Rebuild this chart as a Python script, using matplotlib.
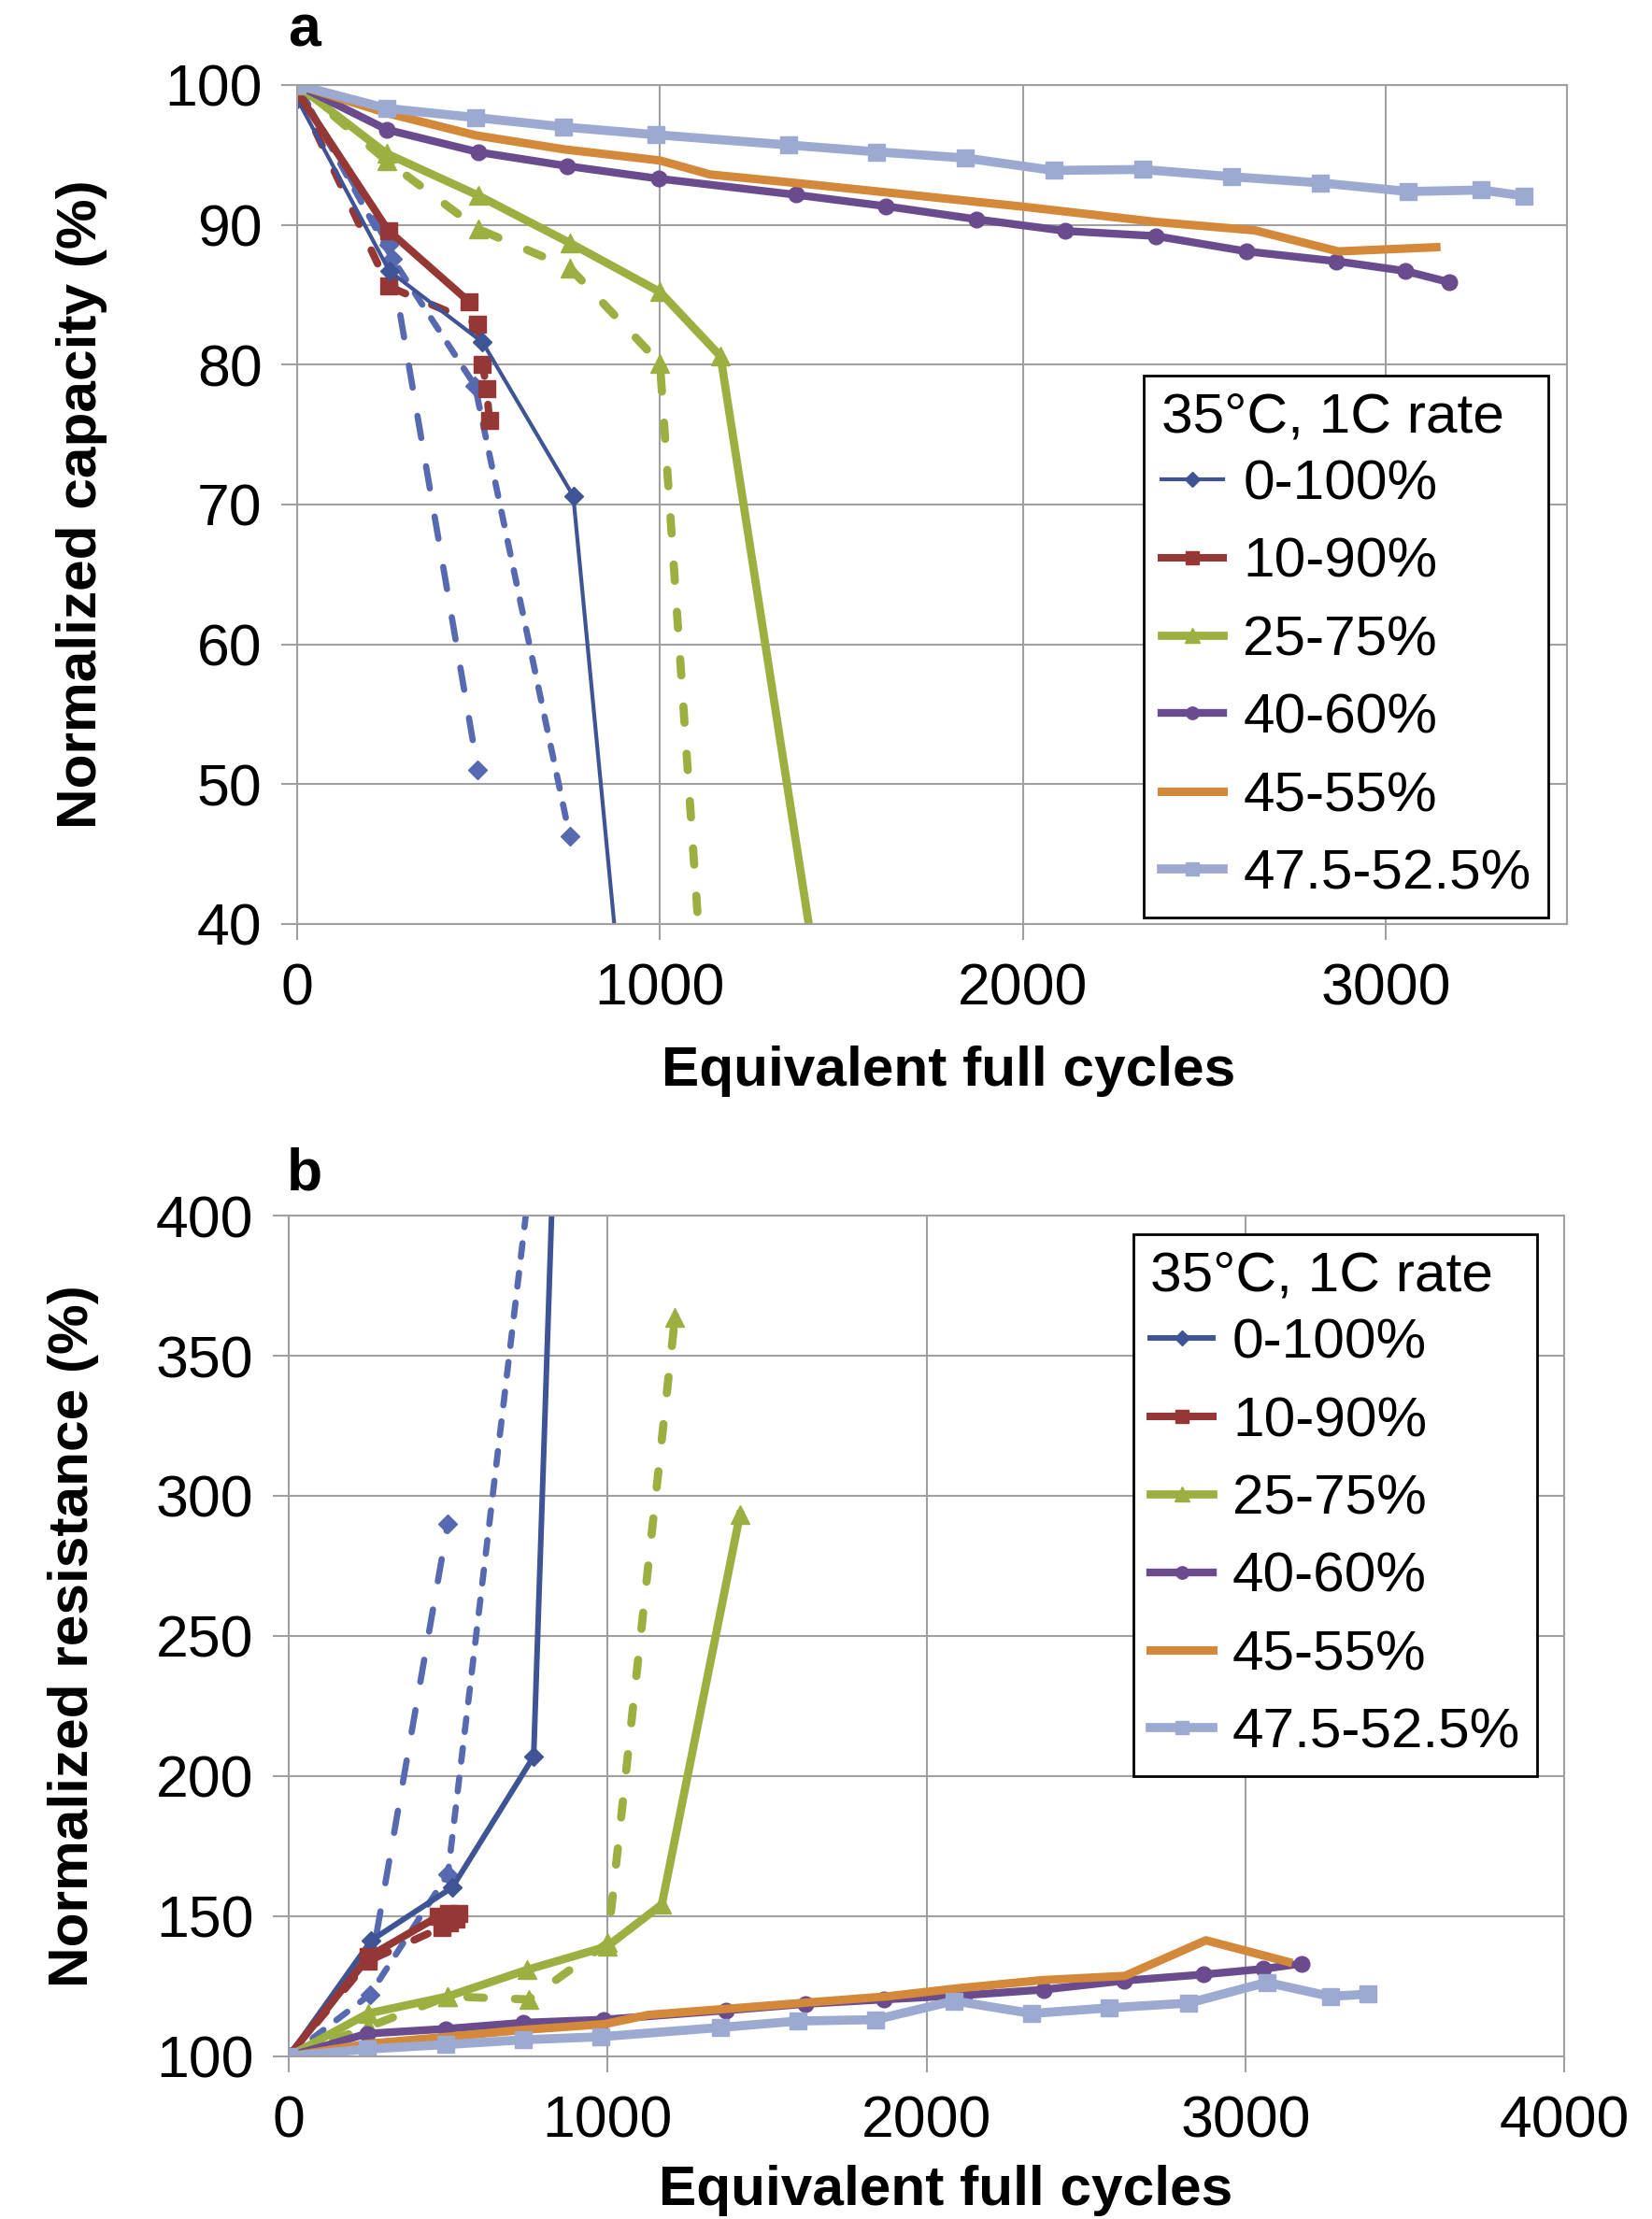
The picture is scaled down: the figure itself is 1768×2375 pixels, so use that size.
import matplotlib
matplotlib.use("Agg")
import matplotlib.pyplot as plt

plt.rcParams['font.family'] = ['Liberation Sans', 'DejaVu Sans']

# ---- colours ----
c_dblue = '#3F5495'
c_blue = '#5669B1'
c_red = '#953735'
c_green = '#9BB041'
c_purple = '#6A4B8D'
c_orange = '#D3883A'
c_lblue = '#9CAAD2'
c_grid = '#A0A0A0'

labels = ['0-100%', '10-90%', '25-75%', '40-60%', '45-55%', '47.5-52.5%']
legend_title = '35\u00b0C, 1C rate'

# ---- panel a: normalized capacity (%) ----
a_0100_x = [0, 254, 511, 761, 885]
a_0100_y = [99, 86.7, 81.6, 70.6, 37]
a_0100_d1_x = [0, 251, 498]
a_0100_d1_y = [100, 88.6, 51.0]
a_0100_d2_x = [0, 262, 490, 751]
a_0100_d2_y = [100, 87.6, 78.5, 46.3]
a_1090_x = [0, 251, 474]
a_1090_y = [99.5, 89.6, 84.5]
a_1090_d_x = [0, 251, 498, 511, 522, 530]
a_1090_d_y = [99.5, 85.6, 82.9, 80.0, 78.3, 76.0]
a_2575_x = [0, 246, 499, 752, 1000, 1167, 1440]
a_2575_y = [100, 95.1, 92.1, 88.7, 85.2, 80.6, 35]
a_2575_d_x = [0, 246, 499, 752, 1000, 1116]
a_2575_d_y = [100, 94.6, 89.7, 86.9, 80.1, 36]
a_4060_x = [0, 248, 499, 745, 997, 1374, 1623, 1872, 2118, 2366, 2617, 2864, 3054, 3175]
a_4060_y = [100, 96.8, 95.2, 94.2, 93.3, 92.15, 91.33, 90.4, 89.56, 89.2, 88.1, 87.4, 86.7, 85.9]
a_4555_x = [0, 246, 492, 735, 1000, 1138, 1410, 2000, 2370, 2640, 2870, 3140]
a_4555_y = [100, 98.0, 96.4, 95.4, 94.6, 93.6, 92.9, 91.3, 90.2, 89.6, 88.1, 88.4]
a_475_x = [0, 246, 492, 735, 990, 1354, 1597, 1841, 2085, 2330, 2575, 2821, 3063, 3264, 3382]
a_475_y = [100, 98.33, 97.67, 97.0, 96.44, 95.71, 95.22, 94.78, 93.89, 93.96, 93.44, 93.0, 92.38, 92.49, 92.07]

# ---- panel b: normalized resistance (%) ----
b_0100_x = [0, 259, 513, 768, 830]
b_0100_y = [100, 141.4, 160.3, 207, 420]
b_0100_d1_x = [0, 265, 499]
b_0100_d1_y = [100, 137, 290.1]
b_0100_d2_x = [0, 254, 499, 762]
b_0100_d2_y = [100, 122, 165, 418]
b_1090_x = [0, 249, 470, 500, 533]
b_1090_y = [100, 135.5, 150, 151, 151]
b_1090_d_x = [0, 249, 479, 505, 525]
b_1090_d_y = [100, 134, 146, 147.5, 149]
b_2575_x = [0, 249, 499, 748, 998, 1170, 1415]
b_2575_y = [100, 115.3, 121.4, 130.9, 139.2, 154.2, 293.3]
b_2575_d_x = [0, 249, 499, 753, 1000, 1211]
b_2575_d_y = [100, 110.5, 121.4, 120.3, 140.5, 363.6]
b_4060_x = [0, 245, 492, 735, 988, 1372, 1619, 1867, 2117, 2367, 2619, 2868, 3056, 3177]
b_4060_y = [100, 108.1, 109.8, 112, 113.1, 116.4, 118.7, 120.3, 121.8, 123.8, 127, 129.2, 131.2, 133.1]
b_4555_x = [0, 250, 500, 740, 990, 1128, 1877, 2092, 2364, 2622, 2876, 3134]
b_4555_y = [100, 104.5, 107, 109.5, 111.5, 114.8, 121.4, 124.2, 127.2, 128.7, 141.4, 133.7]
b_475_x = [0, 245, 492, 735, 979, 1353, 1596, 1840, 2086, 2330, 2573, 2822, 3067, 3266, 3384]
b_475_y = [100, 102.6, 104.2, 105.9, 107, 110.3, 112.6, 113.1, 119.8, 115.3, 117.3, 119, 126.4, 121.4, 122.2]

FS_TICK = 45
FS_LABEL = 43.5
FS_LEG = 43.5
dash_long = (3.6, 4.6)
dash_short = (2.2, 2.6)
dash_thick = (2.0, 3.8)


def style_axes(ax, xlim, ylim, xticks, yticks, ylabel, xlabel_x, xlabel_pad):
    ax.set_xlim(*xlim)
    ax.set_ylim(*ylim)
    ax.set_xticks(xticks)
    ax.set_yticks(yticks)
    ax.grid(True, color=c_grid, linewidth=1.5)
    ax.set_axisbelow(True)
    for s in ax.spines.values():
        s.set_color(c_grid)
        s.set_linewidth(1.5)
    ax.tick_params(axis='both', direction='out', length=12, width=1.5,
                   color=c_grid, labelsize=FS_TICK)
    ax.tick_params(axis='x', pad=17)
    ax.tick_params(axis='y', pad=15)
    ax.set_xlabel('Equivalent full cycles', fontsize=FS_LABEL, fontweight='bold',
                  labelpad=xlabel_pad)
    ax.xaxis.label.set_x(xlabel_x)
    ax.set_ylabel(ylabel, fontsize=FS_LABEL, fontweight='bold', labelpad=44)


def draw_panel(ax, d, solid_blue_lw):
    # dashed series first
    ax.plot(d['0100_d1'][0], d['0100_d1'][1], color=c_blue, lw=4.8, marker='D', ms=10,
            linestyle=(0, dash_long), dash_capstyle='round')
    ax.plot(d['0100_d2'][0], d['0100_d2'][1], color=c_blue, lw=4.8, marker='D', ms=10,
            linestyle=(0, dash_short), dash_capstyle='round')
    ax.plot(d['1090_d'][0], d['1090_d'][1], color=c_red, lw=5.8, marker='s', ms=13,
            linestyle=(0, dash_thick), dash_capstyle='round')
    ax.plot(d['2575_d'][0], d['2575_d'][1], color=c_green, lw=6.3, marker='^', ms=14,
            linestyle=(0, dash_thick), dash_capstyle='round')
    handles = []
    h, = ax.plot(d['0100'][0], d['0100'][1], color=c_dblue, lw=solid_blue_lw, marker='D', ms=10)
    handles.append(h)
    h, = ax.plot(d['1090'][0], d['1090'][1], color=c_red, lw=5.8, marker='s', ms=13)
    handles.append(h)
    h, = ax.plot(d['2575'][0], d['2575'][1], color=c_green, lw=6.3, marker='^', ms=14)
    handles.append(h)
    h, = ax.plot(d['4060'][0], d['4060'][1], color=c_purple, lw=6, marker='o', ms=12)
    handles.append(h)
    h, = ax.plot(d['4555'][0], d['4555'][1], color=c_orange, lw=6.5)
    handles.append(h)
    h, = ax.plot(d['475'][0], d['475'][1], color=c_lblue, lw=7, marker='s', ms=13)
    handles.append(h)
    return handles


def add_legend(ax, handles, anchor):
    leg = ax.legend(handles, labels, title=legend_title, loc='upper right',
                    bbox_to_anchor=anchor, borderaxespad=0, fontsize=FS_LEG,
                    title_fontsize=FS_LEG, fancybox=False, framealpha=1,
                    edgecolor='black', handlelength=1.1, handletextpad=0.35,
                    labelspacing=0.47, borderpad=0.3, markerscale=0.8)
    leg.get_frame().set_linewidth(2)
    leg._legend_box.align = 'left'
    leg._legend_box.sep = 12


fig = plt.figure(figsize=(17.68, 23.75), dpi=100)

# panel a
ax1 = fig.add_axes([0.1799, 0.5836, 0.7686, 0.3781])
data_a = {
    '0100': (a_0100_x, a_0100_y), '0100_d1': (a_0100_d1_x, a_0100_d1_y),
    '0100_d2': (a_0100_d2_x, a_0100_d2_y), '1090': (a_1090_x, a_1090_y),
    '1090_d': (a_1090_d_x, a_1090_d_y), '2575': (a_2575_x, a_2575_y),
    '2575_d': (a_2575_d_x, a_2575_d_y), '4060': (a_4060_x, a_4060_y),
    '4555': (a_4555_x, a_4555_y), '475': (a_475_x, a_475_y),
}
hs = draw_panel(ax1, data_a, 3)
style_axes(ax1, (0, 3500), (40, 100), [0, 1000, 2000, 3000],
           range(40, 101, 10), 'Normalized capacity (%)', 0.513, 22)
add_legend(ax1, hs, (0.985, 0.654))
fig.text(326 / 1768, 1 - 33 / 2375, 'a', fontsize=45, fontweight='bold',
         ha='center', va='center')

# panel b
ax2 = fig.add_axes([0.1748, 0.0733, 0.7721, 0.3789])
data_b = {
    '0100': (b_0100_x, b_0100_y), '0100_d1': (b_0100_d1_x, b_0100_d1_y),
    '0100_d2': (b_0100_d2_x, b_0100_d2_y), '1090': (b_1090_x, b_1090_y),
    '1090_d': (b_1090_d_x, b_1090_d_y), '2575': (b_2575_x, b_2575_y),
    '2575_d': (b_2575_d_x, b_2575_d_y), '4060': (b_4060_x, b_4060_y),
    '4555': (b_4555_x, b_4555_y), '475': (b_475_x, b_475_y),
}
hs = draw_panel(ax2, data_b, 4.3)
style_axes(ax2, (0, 4000), (100, 400), [0, 1000, 2000, 3000, 4000],
           range(100, 401, 50), 'Normalized resistance (%)', 0.515, 12)
add_legend(ax2, hs, (0.979, 0.978))
fig.text(326 / 1768, 1 - 1257 / 2375, 'b', fontsize=45, fontweight='bold',
         ha='center', va='center')

fig.savefig('out.png', dpi=100)
